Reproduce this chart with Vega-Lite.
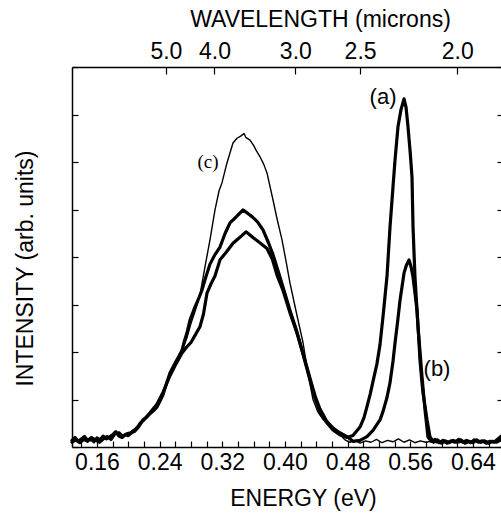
{
  "$schema": "https://vega.github.io/schema/vega-lite/v6.json",
  "width": 431,
  "height": 380,
  "autosize": {"type": "none"},
  "padding": {"left": 72, "top": 67, "right": 0, "bottom": 66},
  "background": "white",
  "config": {
    "view": {"stroke": null},
    "axis": {
      "grid": false,
      "domainColor": "black",
      "domainWidth": 1.5,
      "tickColor": "black",
      "tickWidth": 1.2,
      "labelColor": "black",
      "titleColor": "black",
      "labelFont": "Liberation Sans",
      "titleFont": "Liberation Sans",
      "titleFontWeight": "normal",
      "labelOverlap": false,
      "labelBound": false,
      "labelFlush": false
    }
  },
  "datasets": {
    "curves": [
      {"series": "a", "energy": 0.1281, "intensity": 0.14},
      {"series": "a", "energy": 0.132, "intensity": 0.2},
      {"series": "a", "energy": 0.136, "intensity": 0.12},
      {"series": "a", "energy": 0.14, "intensity": 0.17},
      {"series": "a", "energy": 0.144, "intensity": 0.22},
      {"series": "a", "energy": 0.148, "intensity": 0.14},
      {"series": "a", "energy": 0.152, "intensity": 0.18},
      {"series": "a", "energy": 0.156, "intensity": 0.11},
      {"series": "a", "energy": 0.16, "intensity": 0.19},
      {"series": "a", "energy": 0.164, "intensity": 0.15},
      {"series": "a", "energy": 0.168, "intensity": 0.23},
      {"series": "a", "energy": 0.172, "intensity": 0.17},
      {"series": "a", "energy": 0.176, "intensity": 0.21},
      {"series": "a", "energy": 0.18, "intensity": 0.26},
      {"series": "a", "energy": 0.184, "intensity": 0.32},
      {"series": "a", "energy": 0.188, "intensity": 0.23},
      {"series": "a", "energy": 0.192, "intensity": 0.2},
      {"series": "a", "energy": 0.196, "intensity": 0.26},
      {"series": "a", "energy": 0.2, "intensity": 0.24},
      {"series": "a", "energy": 0.204, "intensity": 0.3},
      {"series": "a", "energy": 0.208, "intensity": 0.33},
      {"series": "a", "energy": 0.212, "intensity": 0.4},
      {"series": "a", "energy": 0.215, "intensity": 0.47},
      {"series": "a", "energy": 0.2187, "intensity": 0.57},
      {"series": "a", "energy": 0.223, "intensity": 0.62},
      {"series": "a", "energy": 0.2277, "intensity": 0.7},
      {"series": "a", "energy": 0.232, "intensity": 0.76},
      {"series": "a", "energy": 0.2366, "intensity": 0.84},
      {"series": "a", "energy": 0.24, "intensity": 0.95},
      {"series": "a", "energy": 0.2443, "intensity": 1.1},
      {"series": "a", "energy": 0.249, "intensity": 1.35},
      {"series": "a", "energy": 0.2532, "intensity": 1.56},
      {"series": "a", "energy": 0.257, "intensity": 1.68},
      {"series": "a", "energy": 0.2609, "intensity": 1.8},
      {"series": "a", "energy": 0.265, "intensity": 1.92},
      {"series": "a", "energy": 0.2686, "intensity": 2.04},
      {"series": "a", "energy": 0.272, "intensity": 2.25},
      {"series": "a", "energy": 0.2749, "intensity": 2.4},
      {"series": "a", "energy": 0.2788, "intensity": 2.67},
      {"series": "a", "energy": 0.284, "intensity": 2.9},
      {"series": "a", "energy": 0.289, "intensity": 3.09},
      {"series": "a", "energy": 0.294, "intensity": 3.3},
      {"series": "a", "energy": 0.2979, "intensity": 3.52},
      {"series": "a", "energy": 0.3043, "intensity": 3.85},
      {"series": "a", "energy": 0.3107, "intensity": 4.05},
      {"series": "a", "energy": 0.3171, "intensity": 4.21},
      {"series": "a", "energy": 0.3237, "intensity": 4.5},
      {"series": "a", "energy": 0.3299, "intensity": 4.72},
      {"series": "a", "energy": 0.335, "intensity": 4.8},
      {"series": "a", "energy": 0.34, "intensity": 4.88},
      {"series": "a", "energy": 0.344, "intensity": 4.95},
      {"series": "a", "energy": 0.3465, "intensity": 4.99},
      {"series": "a", "energy": 0.35, "intensity": 4.95},
      {"series": "a", "energy": 0.354, "intensity": 4.9},
      {"series": "a", "energy": 0.358, "intensity": 4.85},
      {"series": "a", "energy": 0.365, "intensity": 4.74},
      {"series": "a", "energy": 0.372, "intensity": 4.57},
      {"series": "a", "energy": 0.379, "intensity": 4.3},
      {"series": "a", "energy": 0.3848, "intensity": 4.05},
      {"series": "a", "energy": 0.391, "intensity": 3.72},
      {"series": "a", "energy": 0.3975, "intensity": 3.37},
      {"series": "a", "energy": 0.406, "intensity": 2.9},
      {"series": "a", "energy": 0.4154, "intensity": 2.42},
      {"series": "a", "energy": 0.424, "intensity": 1.9},
      {"series": "a", "energy": 0.432, "intensity": 1.41},
      {"series": "a", "energy": 0.439, "intensity": 1.0},
      {"series": "a", "energy": 0.4448, "intensity": 0.74},
      {"series": "a", "energy": 0.453, "intensity": 0.52},
      {"series": "a", "energy": 0.4614, "intensity": 0.36},
      {"series": "a", "energy": 0.47, "intensity": 0.26},
      {"series": "a", "energy": 0.4793, "intensity": 0.2},
      {"series": "a", "energy": 0.4869, "intensity": 0.24},
      {"series": "a", "energy": 0.4959, "intensity": 0.42},
      {"series": "a", "energy": 0.501, "intensity": 0.62},
      {"series": "a", "energy": 0.5048, "intensity": 0.85},
      {"series": "a", "energy": 0.509, "intensity": 1.12},
      {"series": "a", "energy": 0.5125, "intensity": 1.38},
      {"series": "a", "energy": 0.5175, "intensity": 1.75},
      {"series": "a", "energy": 0.5214, "intensity": 2.15},
      {"series": "a", "energy": 0.5253, "intensity": 2.75},
      {"series": "a", "energy": 0.5304, "intensity": 3.6},
      {"series": "a", "energy": 0.5342, "intensity": 4.63},
      {"series": "a", "energy": 0.538, "intensity": 5.47},
      {"series": "a", "energy": 0.5406, "intensity": 6.04},
      {"series": "a", "energy": 0.5444, "intensity": 6.74},
      {"series": "a", "energy": 0.5482, "intensity": 7.1},
      {"series": "a", "energy": 0.5521, "intensity": 7.33},
      {"series": "a", "energy": 0.5547, "intensity": 7.15},
      {"series": "a", "energy": 0.5572, "intensity": 6.74},
      {"series": "a", "energy": 0.56, "intensity": 6.2},
      {"series": "a", "energy": 0.5623, "intensity": 5.68},
      {"series": "a", "energy": 0.5636, "intensity": 4.63},
      {"series": "a", "energy": 0.5661, "intensity": 3.58},
      {"series": "a", "energy": 0.57, "intensity": 2.53},
      {"series": "a", "energy": 0.5751, "intensity": 1.47},
      {"series": "a", "energy": 0.5789, "intensity": 0.78},
      {"series": "a", "energy": 0.5827, "intensity": 0.21},
      {"series": "a", "energy": 0.587, "intensity": 0.12},
      {"series": "a", "energy": 0.592, "intensity": 0.16},
      {"series": "a", "energy": 0.597, "intensity": 0.09},
      {"series": "a", "energy": 0.602, "intensity": 0.14},
      {"series": "a", "energy": 0.607, "intensity": 0.08},
      {"series": "a", "energy": 0.612, "intensity": 0.13},
      {"series": "a", "energy": 0.617, "intensity": 0.1},
      {"series": "a", "energy": 0.622, "intensity": 0.16},
      {"series": "a", "energy": 0.627, "intensity": 0.1},
      {"series": "a", "energy": 0.632, "intensity": 0.14},
      {"series": "a", "energy": 0.637, "intensity": 0.09},
      {"series": "a", "energy": 0.642, "intensity": 0.15},
      {"series": "a", "energy": 0.647, "intensity": 0.1},
      {"series": "a", "energy": 0.652, "intensity": 0.13},
      {"series": "a", "energy": 0.657, "intensity": 0.08},
      {"series": "a", "energy": 0.662, "intensity": 0.12},
      {"series": "a", "energy": 0.667, "intensity": 0.1},
      {"series": "a", "energy": 0.672, "intensity": 0.17},
      {"series": "a", "energy": 0.6785, "intensity": 0.26},

      {"series": "b", "energy": 0.1281, "intensity": 0.1},
      {"series": "b", "energy": 0.133, "intensity": 0.15},
      {"series": "b", "energy": 0.138, "intensity": 0.09},
      {"series": "b", "energy": 0.143, "intensity": 0.16},
      {"series": "b", "energy": 0.148, "intensity": 0.12},
      {"series": "b", "energy": 0.153, "intensity": 0.2},
      {"series": "b", "energy": 0.158, "intensity": 0.15},
      {"series": "b", "energy": 0.163, "intensity": 0.1},
      {"series": "b", "energy": 0.168, "intensity": 0.17},
      {"series": "b", "energy": 0.173, "intensity": 0.22},
      {"series": "b", "energy": 0.178, "intensity": 0.16},
      {"series": "b", "energy": 0.183, "intensity": 0.28},
      {"series": "b", "energy": 0.188, "intensity": 0.3},
      {"series": "b", "energy": 0.193, "intensity": 0.22},
      {"series": "b", "energy": 0.198, "intensity": 0.28},
      {"series": "b", "energy": 0.203, "intensity": 0.3},
      {"series": "b", "energy": 0.208, "intensity": 0.36},
      {"series": "b", "energy": 0.212, "intensity": 0.42},
      {"series": "b", "energy": 0.215, "intensity": 0.5},
      {"series": "b", "energy": 0.2187, "intensity": 0.55},
      {"series": "b", "energy": 0.2277, "intensity": 0.72},
      {"series": "b", "energy": 0.2366, "intensity": 0.9},
      {"series": "b", "energy": 0.2443, "intensity": 1.15},
      {"series": "b", "energy": 0.2532, "intensity": 1.5},
      {"series": "b", "energy": 0.2609, "intensity": 1.75},
      {"series": "b", "energy": 0.2686, "intensity": 1.98},
      {"series": "b", "energy": 0.2749, "intensity": 2.11},
      {"series": "b", "energy": 0.28, "intensity": 2.2},
      {"series": "b", "energy": 0.2852, "intensity": 2.35},
      {"series": "b", "energy": 0.2915, "intensity": 2.53},
      {"series": "b", "energy": 0.296, "intensity": 2.8},
      {"series": "b", "energy": 0.3005, "intensity": 3.24},
      {"series": "b", "energy": 0.306, "intensity": 3.45},
      {"series": "b", "energy": 0.3107, "intensity": 3.6},
      {"series": "b", "energy": 0.3171, "intensity": 3.94},
      {"series": "b", "energy": 0.325, "intensity": 4.1},
      {"series": "b", "energy": 0.3337, "intensity": 4.29},
      {"series": "b", "energy": 0.34, "intensity": 4.38},
      {"series": "b", "energy": 0.345, "intensity": 4.45},
      {"series": "b", "energy": 0.3503, "intensity": 4.53},
      {"series": "b", "energy": 0.355, "intensity": 4.47},
      {"series": "b", "energy": 0.36, "intensity": 4.4},
      {"series": "b", "energy": 0.368, "intensity": 4.3},
      {"series": "b", "energy": 0.3771, "intensity": 4.18},
      {"series": "b", "energy": 0.384, "intensity": 3.95},
      {"series": "b", "energy": 0.3899, "intensity": 3.62},
      {"series": "b", "energy": 0.3975, "intensity": 3.3},
      {"series": "b", "energy": 0.406, "intensity": 2.85},
      {"series": "b", "energy": 0.4154, "intensity": 2.4},
      {"series": "b", "energy": 0.424, "intensity": 1.92},
      {"series": "b", "energy": 0.432, "intensity": 1.45},
      {"series": "b", "energy": 0.439, "intensity": 1.05},
      {"series": "b", "energy": 0.4448, "intensity": 0.8},
      {"series": "b", "energy": 0.453, "intensity": 0.55},
      {"series": "b", "energy": 0.4614, "intensity": 0.4},
      {"series": "b", "energy": 0.47, "intensity": 0.3},
      {"series": "b", "energy": 0.4793, "intensity": 0.22},
      {"series": "b", "energy": 0.4869, "intensity": 0.12},
      {"series": "b", "energy": 0.4959, "intensity": 0.14},
      {"series": "b", "energy": 0.5048, "intensity": 0.22},
      {"series": "b", "energy": 0.5125, "intensity": 0.35},
      {"series": "b", "energy": 0.5214, "intensity": 0.57},
      {"series": "b", "energy": 0.5253, "intensity": 0.75},
      {"series": "b", "energy": 0.53, "intensity": 1.02},
      {"series": "b", "energy": 0.5342, "intensity": 1.35},
      {"series": "b", "energy": 0.538, "intensity": 1.8},
      {"series": "b", "energy": 0.5406, "intensity": 2.19},
      {"series": "b", "energy": 0.544, "intensity": 2.65},
      {"series": "b", "energy": 0.547, "intensity": 3.09},
      {"series": "b", "energy": 0.5521, "intensity": 3.66},
      {"series": "b", "energy": 0.555, "intensity": 3.82},
      {"series": "b", "energy": 0.5585, "intensity": 3.94},
      {"series": "b", "energy": 0.561, "intensity": 3.8},
      {"series": "b", "energy": 0.5636, "intensity": 3.58},
      {"series": "b", "energy": 0.566, "intensity": 3.25},
      {"series": "b", "energy": 0.5687, "intensity": 2.88},
      {"series": "b", "energy": 0.5705, "intensity": 2.4},
      {"series": "b", "energy": 0.5725, "intensity": 1.83},
      {"series": "b", "energy": 0.5745, "intensity": 1.45},
      {"series": "b", "energy": 0.5763, "intensity": 1.14},
      {"series": "b", "energy": 0.579, "intensity": 0.85},
      {"series": "b", "energy": 0.5815, "intensity": 0.57},
      {"series": "b", "energy": 0.5853, "intensity": 0.21},
      {"series": "b", "energy": 0.59, "intensity": 0.1},
      {"series": "b", "energy": 0.595, "intensity": 0.15},
      {"series": "b", "energy": 0.6, "intensity": 0.08},
      {"series": "b", "energy": 0.605, "intensity": 0.13},
      {"series": "b", "energy": 0.61, "intensity": 0.09},
      {"series": "b", "energy": 0.615, "intensity": 0.14},
      {"series": "b", "energy": 0.62, "intensity": 0.1},
      {"series": "b", "energy": 0.625, "intensity": 0.15},
      {"series": "b", "energy": 0.63, "intensity": 0.08},
      {"series": "b", "energy": 0.635, "intensity": 0.12},
      {"series": "b", "energy": 0.64, "intensity": 0.09},
      {"series": "b", "energy": 0.645, "intensity": 0.15},
      {"series": "b", "energy": 0.65, "intensity": 0.1},
      {"series": "b", "energy": 0.655, "intensity": 0.13},
      {"series": "b", "energy": 0.66, "intensity": 0.08},
      {"series": "b", "energy": 0.665, "intensity": 0.12},
      {"series": "b", "energy": 0.67, "intensity": 0.1},
      {"series": "b", "energy": 0.6785, "intensity": 0.18},

      {"series": "c", "energy": 0.1281, "intensity": 0.12},
      {"series": "c", "energy": 0.134, "intensity": 0.17},
      {"series": "c", "energy": 0.14, "intensity": 0.1},
      {"series": "c", "energy": 0.146, "intensity": 0.19},
      {"series": "c", "energy": 0.152, "intensity": 0.13},
      {"series": "c", "energy": 0.158, "intensity": 0.18},
      {"series": "c", "energy": 0.164, "intensity": 0.12},
      {"series": "c", "energy": 0.17, "intensity": 0.21},
      {"series": "c", "energy": 0.176, "intensity": 0.18},
      {"series": "c", "energy": 0.182, "intensity": 0.3},
      {"series": "c", "energy": 0.188, "intensity": 0.25},
      {"series": "c", "energy": 0.194, "intensity": 0.24},
      {"series": "c", "energy": 0.2, "intensity": 0.27},
      {"series": "c", "energy": 0.206, "intensity": 0.33},
      {"series": "c", "energy": 0.212, "intensity": 0.41},
      {"series": "c", "energy": 0.2187, "intensity": 0.56},
      {"series": "c", "energy": 0.2277, "intensity": 0.7},
      {"series": "c", "energy": 0.2366, "intensity": 0.86},
      {"series": "c", "energy": 0.2443, "intensity": 1.12},
      {"series": "c", "energy": 0.2532, "intensity": 1.52},
      {"series": "c", "energy": 0.2609, "intensity": 1.78},
      {"series": "c", "energy": 0.2686, "intensity": 2.02},
      {"series": "c", "energy": 0.2749, "intensity": 2.3},
      {"series": "c", "energy": 0.28, "intensity": 2.6},
      {"series": "c", "energy": 0.2852, "intensity": 2.85},
      {"series": "c", "energy": 0.2915, "intensity": 3.2},
      {"series": "c", "energy": 0.2979, "intensity": 3.79},
      {"series": "c", "energy": 0.3043, "intensity": 4.36},
      {"series": "c", "energy": 0.3107, "intensity": 4.99},
      {"series": "c", "energy": 0.316, "intensity": 5.4},
      {"series": "c", "energy": 0.3196, "intensity": 5.56},
      {"series": "c", "energy": 0.326, "intensity": 5.98},
      {"series": "c", "energy": 0.33, "intensity": 6.2},
      {"series": "c", "energy": 0.3337, "intensity": 6.4},
      {"series": "c", "energy": 0.3388, "intensity": 6.5},
      {"series": "c", "energy": 0.344, "intensity": 6.55},
      {"series": "c", "energy": 0.3477, "intensity": 6.6},
      {"series": "c", "energy": 0.35, "intensity": 6.52},
      {"series": "c", "energy": 0.3554, "intensity": 6.46},
      {"series": "c", "energy": 0.36, "intensity": 6.35},
      {"series": "c", "energy": 0.3631, "intensity": 6.25},
      {"series": "c", "energy": 0.3682, "intensity": 6.11},
      {"series": "c", "energy": 0.373, "intensity": 5.95},
      {"series": "c", "energy": 0.3771, "intensity": 5.77},
      {"series": "c", "energy": 0.3848, "intensity": 5.2},
      {"series": "c", "energy": 0.39, "intensity": 4.8},
      {"series": "c", "energy": 0.3963, "intensity": 4.36},
      {"series": "c", "energy": 0.401, "intensity": 3.95},
      {"series": "c", "energy": 0.4065, "intensity": 3.45},
      {"series": "c", "energy": 0.415, "intensity": 2.8},
      {"series": "c", "energy": 0.4231, "intensity": 2.2},
      {"series": "c", "energy": 0.43, "intensity": 1.5},
      {"series": "c", "energy": 0.4359, "intensity": 1.0},
      {"series": "c", "energy": 0.442, "intensity": 0.74},
      {"series": "c", "energy": 0.4486, "intensity": 0.58},
      {"series": "c", "energy": 0.455, "intensity": 0.5},
      {"series": "c", "energy": 0.4614, "intensity": 0.42},
      {"series": "c", "energy": 0.469, "intensity": 0.28},
      {"series": "c", "energy": 0.4767, "intensity": 0.15},
      {"series": "c", "energy": 0.483, "intensity": 0.1},
      {"series": "c", "energy": 0.49, "intensity": 0.14},
      {"series": "c", "energy": 0.496, "intensity": 0.08},
      {"series": "c", "energy": 0.503, "intensity": 0.13},
      {"series": "c", "energy": 0.51, "intensity": 0.1},
      {"series": "c", "energy": 0.517, "intensity": 0.16},
      {"series": "c", "energy": 0.524, "intensity": 0.09},
      {"series": "c", "energy": 0.531, "intensity": 0.14},
      {"series": "c", "energy": 0.538, "intensity": 0.11},
      {"series": "c", "energy": 0.545, "intensity": 0.17},
      {"series": "c", "energy": 0.552, "intensity": 0.1},
      {"series": "c", "energy": 0.559, "intensity": 0.15},
      {"series": "c", "energy": 0.566, "intensity": 0.09},
      {"series": "c", "energy": 0.573, "intensity": 0.13},
      {"series": "c", "energy": 0.58, "intensity": 0.1},
      {"series": "c", "energy": 0.587, "intensity": 0.12},
      {"series": "c", "energy": 0.594, "intensity": 0.09},
      {"series": "c", "energy": 0.601, "intensity": 0.13},
      {"series": "c", "energy": 0.608, "intensity": 0.1},
      {"series": "c", "energy": 0.615, "intensity": 0.14},
      {"series": "c", "energy": 0.622, "intensity": 0.09},
      {"series": "c", "energy": 0.629, "intensity": 0.12},
      {"series": "c", "energy": 0.636, "intensity": 0.1},
      {"series": "c", "energy": 0.643, "intensity": 0.13},
      {"series": "c", "energy": 0.65, "intensity": 0.09},
      {"series": "c", "energy": 0.657, "intensity": 0.12},
      {"series": "c", "energy": 0.664, "intensity": 0.1},
      {"series": "c", "energy": 0.671, "intensity": 0.14},
      {"series": "c", "energy": 0.6785, "intensity": 0.12}
    ],
    "sansLabels": [
      {"label": "(a)", "energy": 0.5253, "intensity": 7.37},
      {"label": "(b)", "energy": 0.5942, "intensity": 1.64}
    ],
    "serifLabels": [
      {"label": "(c)", "energy": 0.3018, "intensity": 6.0}
    ]
  },
  "layer": [
    {
      "data": {"name": "curves"},
      "mark": {"type": "line", "color": "black", "strokeJoin": "round", "strokeCap": "round"},
      "encoding": {
        "x": {
          "field": "energy", "type": "quantitative",
          "scale": {"domain": [0.1281, 0.6785], "nice": false, "zero": false},
          "axis": {
            "orient": "bottom",
            "values": [0.14, 0.16, 0.18, 0.2, 0.22, 0.24, 0.26, 0.28, 0.3, 0.32, 0.34, 0.36, 0.38, 0.4, 0.42, 0.44, 0.46, 0.48, 0.5, 0.52, 0.54, 0.56, 0.58, 0.6, 0.62, 0.64, 0.66],
            "labelExpr": "round(datum.value*100) % 8 == 0 ? format(datum.value, '.2f') : ''",
            "tickSize": -6,
            "labelPadding": 10,
            "labelFontSize": 23,
            "title": "ENERGY (eV)",
            "titleFontSize": 23,
            "titleX": 231,
            "titleY": 51,
            "titleBaseline": "middle",
            "titleAlign": "center"
          }
        },
        "y": {
          "field": "intensity", "type": "quantitative",
          "scale": {"domain": [0, 8], "nice": false, "zero": false},
          "axis": {
            "orient": "left",
            "values": [0, 1, 2, 3, 4, 5, 6, 7, 8],
            "labels": false,
            "tickSize": -6,
            "title": "INTENSITY (arb. units)",
            "titleFontSize": 23,
            "titleAngle": -90,
            "titleX": -47,
            "titleY": 201,
            "titleBaseline": "middle",
            "titleAlign": "center"
          }
        },
        "detail": {"field": "series", "type": "nominal"},
        "strokeWidth": {
          "condition": {"test": "datum.series === 'c'", "value": 1.4},
          "value": 3.2
        }
      }
    },
    {
      "data": {"name": "sansLabels"},
      "mark": {"type": "text", "font": "Liberation Sans", "fontSize": 22, "color": "black", "align": "center", "baseline": "middle"},
      "encoding": {
        "x": {
          "field": "energy", "type": "quantitative",
          "axis": {
            "orient": "top",
            "values": [0.248, 0.31, 0.413333, 0.496, 0.62],
            "labelExpr": "format(1.24/datum.value, '.1f')",
            "tickSize": -7,
            "labelPadding": 11,
            "labelFontSize": 23,
            "title": "WAVELENGTH (microns)",
            "titleFontSize": 23,
            "titleX": 248,
            "titleY": -48,
            "titleBaseline": "middle",
            "titleAlign": "center"
          }
        },
        "y": {
          "field": "intensity", "type": "quantitative",
          "axis": {
            "orient": "right",
            "values": [0, 1, 2, 3, 4, 5, 6, 7, 8],
            "labels": false,
            "tickSize": -6,
            "title": null
          }
        },
        "text": {"field": "label", "type": "nominal"}
      }
    },
    {
      "data": {"name": "serifLabels"},
      "mark": {"type": "text", "font": "Liberation Serif", "fontSize": 19, "color": "black", "align": "center", "baseline": "middle"},
      "encoding": {
        "x": {"field": "energy", "type": "quantitative", "axis": null},
        "y": {"field": "intensity", "type": "quantitative", "axis": null},
        "text": {"field": "label", "type": "nominal"}
      }
    }
  ],
  "resolve": {"axis": {"x": "independent", "y": "independent"}}
}
